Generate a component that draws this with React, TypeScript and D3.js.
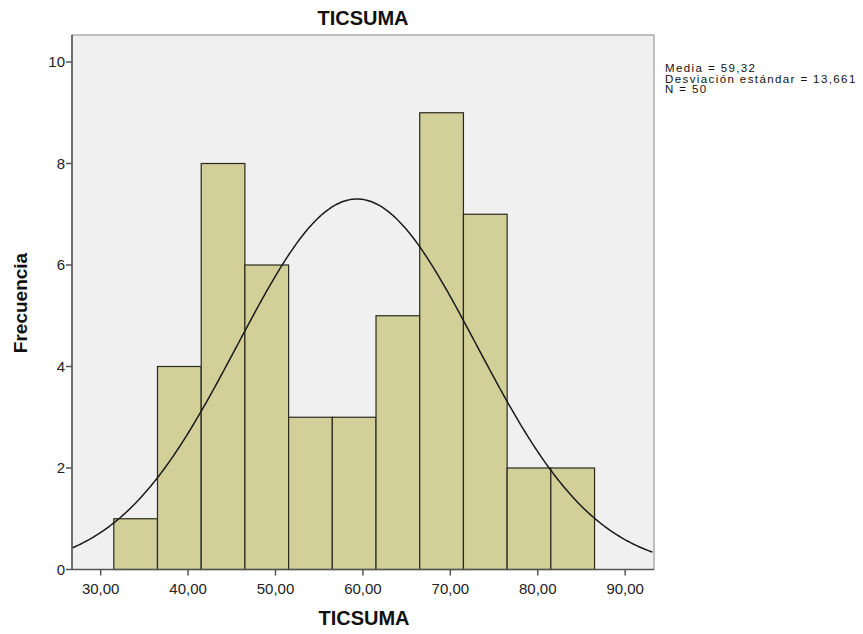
import React from "react";
import * as d3 from "d3";

const binStarts = [31.5, 36.5, 41.5, 46.5, 51.5, 56.5, 61.5, 66.5, 71.5, 76.5, 81.5];
const binWidth = 5;
const counts = [1, 4, 8, 6, 3, 3, 5, 9, 7, 2, 2];
const xTicks = [30, 40, 50, 60, 70, 80, 90];
const yTicks = [0, 2, 4, 6, 8, 10];
const mean = 59.32;
const sd = 13.661;
const n = 50;
const statsLines = ["Media = 59,32", "Desviación estándar = 13,661", "N = 50"];

export default function App() {
  const W = 863, H = 634;
  const left = 72, right = 654, top = 35, bottom = 569.5;
  const x = d3.scaleLinear().domain([26.72, 93.3]).range([left, right]);
  const y = d3.scaleLinear().domain([0, 10]).range([bottom, 62]);
  const fmt = (v: number) => v.toFixed(2).replace(".", ",");
  const pdf = (v: number) =>
    (n * binWidth) / (sd * Math.sqrt(2 * Math.PI)) * Math.exp(-0.5 * ((v - mean) / sd) ** 2);
  const pts = d3.range(26.72, 93.31, 0.2).map((v) => [v, pdf(v)] as [number, number]);
  const line = d3.line<[number, number]>().x((d) => x(d[0])).y((d) => y(d[1])).curve(d3.curveBasis);
  const font = "'Liberation Sans', Arial, sans-serif";
  return (
    <svg width={W} height={H} style={{ position: "absolute", left: 0, top: 0 }} fontFamily={font}>
      <rect x={0} y={0} width={W} height={H} fill="#fff" />
      <rect x={left} y={top} width={right - left} height={bottom - top} fill="#f0f0f0" stroke="#888" strokeWidth={1} />
      {counts.map((c, i) => (
        <rect
          key={i}
          x={x(binStarts[i])}
          y={y(c)}
          width={x(binStarts[i] + binWidth) - x(binStarts[i])}
          height={y(0) - y(c)}
          fill="#d3cf99"
          stroke="#2a2a20"
          strokeWidth={1.2}
        />
      ))}
      <path d={line(pts) || ""} fill="none" stroke="#1a1a1a" strokeWidth={1.5} />
      <line x1={left} x2={left} y1={top} y2={bottom} stroke="#555" strokeWidth={1.5} />
      <line x1={left} x2={right} y1={bottom} y2={bottom} stroke="#555" strokeWidth={1.5} />
      {yTicks.map((t) => (
        <g key={t}>
          <line x1={left - 6} x2={left} y1={y(t)} y2={y(t)} stroke="#555" strokeWidth={1.5} />
          <text x={left - 7} y={y(t)} dy="0.36em" textAnchor="end" fontSize={15} fill="#222">
            {t}
          </text>
        </g>
      ))}
      {xTicks.map((t) => (
        <g key={t}>
          <line x1={x(t)} x2={x(t)} y1={bottom} y2={bottom + 6} stroke="#555" strokeWidth={1.5} />
          <text x={x(t)} y={bottom + 24} textAnchor="middle" fontSize={15} fill="#222">
            {fmt(t)}
          </text>
        </g>
      ))}
      <text x={363} y={25} textAnchor="middle" fontSize={20} fontWeight="bold" fill="#111">
        TICSUMA
      </text>
      <text x={364} y={625} textAnchor="middle" fontSize={20} fontWeight="bold" fill="#111">
        TICSUMA
      </text>
      <text
        transform={`translate(27,303) rotate(-90)`}
        textAnchor="middle"
        fontSize={19}
        fontWeight="bold"
        fill="#111"
      >
        Frecuencia
      </text>
      {statsLines.map((s, i) => (
        <text
          key={i}
          x={665}
          y={72 + i * 10.5}
          fontSize={11.5}
          letterSpacing={1.4}
          fill="#111"
        >
          {s}
        </text>
      ))}
    </svg>
  );
}
